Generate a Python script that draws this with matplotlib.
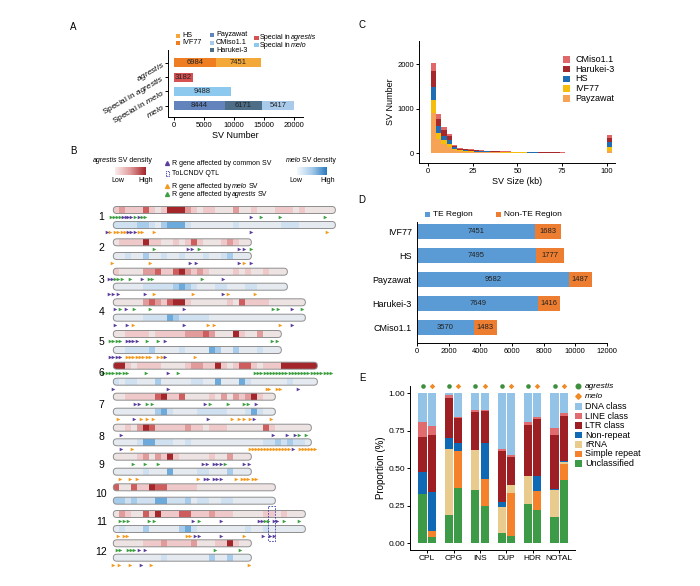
import numpy as np
import matplotlib
matplotlib.use("Agg")
import matplotlib.pyplot as plt
from matplotlib.patches import FancyBboxPatch, Rectangle
from matplotlib.colors import LinearSegmentedColormap

plt.rcParams['font.family'] = ['Liberation Sans', 'DejaVu Sans']
plt.rcParams['mathtext.fontset'] = 'custom'
plt.rcParams['mathtext.rm'] = 'Liberation Sans'
plt.rcParams['mathtext.it'] = 'Liberation Sans:italic'
plt.rcParams['axes.linewidth'] = 0.7
plt.rcParams['xtick.major.width'] = 0.7
plt.rcParams['ytick.major.width'] = 0.7

# ---------------- data ----------------
# A: SV numbers
a_labels = ['$\\mathit{agrestis}$', 'Special in $\\mathit{agrestis}$',
            'Special in $\\mathit{melo}$', '$\\mathit{melo}$']
a_ivf77 = 6984
a_hs = 7451
a_special_agr = 3182
a_special_melo = 9488
a_payzawat = 8444
a_harukei = 6171
a_cmiso = 5417

# C: SV size histogram (3 kb bins, last bin = >=100 kb)
sv_size = [3, 6, 9, 12, 15, 18, 21, 24, 27, 30, 33, 36, 39, 42, 45, 48,
           51, 54, 57, 60, 63, 66, 69, 72, 75, 78, 81, 84, 87, 90, 93, 96, 101.3]
c_payzawat = [900, 330, 220, 150, 70, 45, 38, 34, 28, 24, 22, 20, 19, 17, 16, 15,
              14, 13, 11, 10, 10, 9, 9, 8, 8, 7, 6, 6, 5, 5, 4, 4, 60]
c_ivf77 = [300, 136, 80, 70, 30, 20, 16, 14, 12, 10, 10, 9, 8, 7, 7, 6,
           6, 6, 5, 5, 4, 4, 4, 4, 3, 3, 3, 2, 2, 2, 2, 2, 90]
c_hs = [300, 150, 100, 80, 40, 20, 17, 15, 13, 11, 10, 9, 8, 7, 7, 7,
        6, 6, 5, 5, 4, 4, 4, 4, 3, 3, 3, 3, 3, 2, 2, 2, 100]
c_harukei = [340, 150, 120, 80, 30, 22, 18, 17, 14, 12, 11, 10, 9, 9, 7, 7,
             7, 6, 5, 5, 5, 5, 4, 4, 4, 3, 3, 2, 2, 2, 2, 1, 90]
c_cmiso = [180, 114, 80, 50, 20, 13, 11, 10, 8, 8, 7, 7, 6, 5, 5, 5,
           5, 4, 4, 3, 3, 3, 3, 2, 2, 2, 2, 2, 2, 1, 1, 1, 75]

# D: TE / non-TE
d_names = ['IVF77', 'HS', 'Payzawat', 'Harukei-3', 'CMiso1.1']
d_te = [7451, 7495, 9582, 7649, 3570]
d_nonte = [1683, 1777, 1487, 1416, 1483]

# E: repeat class proportions (rows: class, cols: SV type)
e_types = ['CPL', 'CPG', 'INS', 'DUP', 'HDR', 'NOTAL']
e_classes = ['Unclassified', 'Simple repeat', 'rRNA', 'Non-repeat',
             'LTR class', 'LINE class', 'DNA class']
e_agrestis = [
    [0.330, 0.185, 0.355, 0.070, 0.260, 0.175],
    [0.000, 0.000, 0.000, 0.000, 0.000, 0.000],
    [0.000, 0.440, 0.265, 0.170, 0.185, 0.180],
    [0.145, 0.075, 0.000, 0.035, 0.000, 0.005],
    [0.235, 0.270, 0.255, 0.340, 0.340, 0.360],
    [0.095, 0.015, 0.010, 0.010, 0.025, 0.045],
    [0.195, 0.015, 0.115, 0.375, 0.190, 0.235],
]
e_melo = [
    [0.040, 0.370, 0.250, 0.050, 0.220, 0.420],
    [0.040, 0.245, 0.180, 0.285, 0.125, 0.105],
    [0.000, 0.000, 0.000, 0.050, 0.000, 0.015],
    [0.260, 0.055, 0.235, 0.000, 0.105, 0.005],
    [0.380, 0.165, 0.215, 0.190, 0.380, 0.305],
    [0.060, 0.005, 0.010, 0.010, 0.010, 0.015],
    [0.220, 0.160, 0.110, 0.415, 0.160, 0.135],
]

# B: SV density per ~1 Mb bin (0 low .. 4 high)
agr_density = [
    "1211131014442101100020010001110100000",
    "01111411001013100012100",
    "10000223113421210000101001000",
    "00000232134410000001031111000000",
    "0011110111112223200041002000",
    "4410111100001221141013310111444444",
    "001111134113000010202124100",
    "001024311111211011100000031000000",
    "00001202141000001002000",
    "300311433111110000000000000",
    "02100314111331112111000001101000",
    "00000111211112000114100",
]
melo_density = [
    "1111221023331000000010000000111000000",
    "00100200100100010012000",
    "00000111112321000110001100000",
    "00000111132111110000000000000000",
    "0011112000010000320020001000",
    "1011000200000110030003100000010000",
    "000000023100001111100013100",
    "000013311100100000000000011212110",
    "00000100030000110002000",
    "221211133111201100110000000",
    "01000200000231000000001001000000",
    "00000000100000002002000",
]
# R genes (position in Mb-bins)
agr_common = [[1.6, 2.1, 2.5, 3.0, 4.2, 23.0], [12.5, 13.1, 20.9, 21.8], [-0.8, -0.3, 4.8, 18.3],
              [0.2, 2.1, 11.8, 29.7], [2.2, 2.8, 3.3, 3.9, 8.6], [9.1], [3.6, 4.2, 15.3, 23.7],
              [1.3, 26.6, 29.0, 30.2], [15.0, 15.6, 16.7, 17.2, 17.9, 21.8, 22.6], [],
              [13.2, 17.9, 24.2, 24.7, 26.7, 27.2], [4.3, 5.3]]
agr_only = [[-0.4, 0.1, 0.6, 1.1, 3.6, 4.7, 5.2, 24.6, 27.8, 35.2], [6.8, 14.3, 23.0],
            [0.3, 0.8, 1.4, 2.8, 5.9, 6.5, 14.7], [1.1, 3.5, 6.1, 26.6, 27.4, 31.5],
            [-0.6, 0.0, 0.6, 1.1, 5.6, 7.5, 26.4, 27.2],
            [-1.7, -1.1, -0.6, 0.0, 0.6, 1.1, 1.7, 2.3, 5.4, 10.8, 23.6, 24.1, 24.6, 25.2,
             25.7, 26.2, 26.7, 27.3, 27.8, 28.3, 28.8, 29.4, 29.9, 30.4, 31.0, 31.5, 32.0,
             32.5, 33.1, 33.6, 34.1, 34.6, 35.2, 35.7, 36.2],
            [5.6, 6.4, 16.1, 19.1, 21.8, 22.5], [30.9, 32.1], [3.3, 5.2, 7.5, 18.6], [],
            [1.1, 1.7, 2.5, 6.0, 6.8, 14.3, 25.3, 25.8, 28.5, 31.0], [0.6, 1.1, 2.5, 2.9, 3.5, 16.9, 21.1]]
melo_common = [[-1.1, 2.5, 3.0, 3.6, 22.9], [12.7, 13.8, 20.9, 22.9], [-0.8, 0.0, 0.8, 5.3, 18.2],
               [0.3, 2.2, 11.8, 29.8], [-0.6, 0.0, 0.6, 1.1, 8.6], [0.0, 9.1, 30.8],
               [3.5, 15.8, 23.5], [1.3, 30.0], [15.2, 15.7, 16.7, 17.2, 17.9], [],
               [13.6, 14.2, 17.9, 24.9, 26.1, 26.7], [4.6]]
melo_only = [[-0.6, 0.3, 0.8, 1.4, 1.9, 4.2, 4.7, 6.8, 35.6], [-0.2, 6.1, 21.8],
             [6.8, 13.2, 19.1, 23.6], [3.2, 15.7, 16.7, 27.8],
             [2.2, 2.8, 3.3, 3.9, 4.4, 5.0, 5.6, 6.1, 7.5, 8.1, 13.6], [25.6, 26.0, 27.2, 27.8],
             [0.7, 4.6, 5.6, 6.6, 19.7, 20.9, 21.7, 22.8, 26.2],
             [3.1, 22.8, 23.3, 23.8, 24.3, 24.8, 25.3, 25.8, 26.3, 26.8, 27.3, 27.8, 28.3, 28.8,
              29.3, 31.1, 31.6, 32.1, 32.6, 33.1, 33.6],
             [1.1, 2.8, 3.9, 14.1, 20.4, 21.4, 21.9, 22.5, 23.3, 23.7], [],
             [0.7, 1.8, 2.2, 12.2, 12.8, 21.8], [0.0, 1.0, 2.7, 6.3, 22.6]]
qtl_chr11 = (25.8, 26.9)

# ---------------- helpers ----------------
W, H = 700, 586
fig = plt.figure(figsize=(7, 5.86), dpi=100)


def box(x0, y0, x1, y1):
    return [x0 / W, 1 - y1 / H, (x1 - x0) / W, (y1 - y0) / H]


def fsq(xc, yc, w, h, color, **kw):
    fig.patches.append(Rectangle(((xc - w / 2) / W, 1 - (yc + h / 2) / H), w / W, h / H,
                                 transform=fig.transFigure, facecolor=color,
                                 edgecolor=kw.get('ec', 'none'), lw=kw.get('lw', 0),
                                 ls=kw.get('ls', '-')))


def fmark(xc, yc, marker, color, ms):
    fig.lines.append(plt.Line2D([xc / W], [1 - yc / H], marker=marker, color=color, ms=ms,
                                ls='none', transform=fig.transFigure))


def clean(ax):
    ax.spines['top'].set_visible(False)
    ax.spines['right'].set_visible(False)


# overlay axes in pixel coordinates for free text
axO = fig.add_axes([0, 0, 1, 1], zorder=10)
axO.set_xlim(0, W)
axO.set_ylim(H, 0)
axO.axis('off')


def ftext(x, y, s, **kw):
    kw.setdefault('va', 'center')
    axO.text(x, y, s, **kw)


def rich(x, y, parts, fs):
    # parts: (word, style) pieces drawn one after another, a space apart
    t = axO.text(x, y, parts[0][0], style=parts[0][1], fontsize=fs, va='center')
    for s, st in parts[1:]:
        t = axO.annotate(s, xy=(1, 0), xycoords=t, xytext=(fs * 0.12, 0),
                         textcoords='offset points', style=st, fontsize=fs,
                         va='bottom', ha='left')


# panel letters
for letter, (x, y) in zip('ABCDE', [(73, 27), (73, 151), (362, 25), (362, 200), (362, 378)]):
    ftext(x, y, letter, fontsize=7, ha='center')

# ---------------- A ----------------
col_hs, col_ivf = '#F5A83A', '#EF7D22'
col_pay, col_har, col_cm = '#6283BC', '#4D6E86', '#A9CAEA'
col_sa, col_sm = '#D65151', '#8DC8EE'

axA = fig.add_axes(box(168, 50, 303, 116.7))
bh = 0.63
axA.barh(0, a_ivf77, height=bh, color=col_ivf)
axA.barh(0, a_hs, left=a_ivf77, height=bh, color=col_hs)
axA.barh(1, a_special_agr, height=bh, color=col_sa)
axA.barh(2, a_special_melo, height=bh, color=col_sm)
axA.barh(3, a_payzawat, height=bh, color=col_pay)
axA.barh(3, a_harukei, left=a_payzawat, height=bh, color=col_har)
axA.barh(3, a_cmiso, left=a_payzawat + a_harukei, height=bh, color=col_cm)
for x, y, v in [(a_ivf77 / 2, 0, a_ivf77), (a_ivf77 + a_hs / 2, 0, a_hs),
                (a_special_agr / 2, 1, a_special_agr), (a_special_melo / 2, 2, a_special_melo),
                (a_payzawat / 2, 3, a_payzawat), (a_payzawat + a_harukei / 2, 3, a_harukei),
                (a_payzawat + a_harukei + a_cmiso / 2, 3, a_cmiso)]:
    axA.text(x, y, str(v), ha='center', va='center', fontsize=5.5, color='#222222')
axA.set_xlim(-1000, 21500)
axA.set_ylim(3.77, -0.89)
axA.set_xticks([0, 5000, 10000, 15000, 20000])
axA.set_yticks(range(4))
axA.set_yticklabels(a_labels, rotation=30, ha='right', rotation_mode='anchor', fontsize=6)
axA.tick_params(axis='x', labelsize=5.5, length=2, pad=1.5)
axA.tick_params(axis='y', length=2, pad=1.5)
axA.set_xlabel('SV Number', fontsize=6.5, labelpad=1.5)
clean(axA)

for (x, y, c, t) in [(178, 35.7, col_hs, 'HS'), (178, 43, col_ivf, 'IVF77'),
                     (212, 35, col_pay, 'Payzawat'), (212, 42.7, col_cm, 'CMiso1.1'),
                     (212, 50.3, col_har, 'Harukei-3')]:
    fsq(x, y, 5, 4, c)
    ftext(x + 4, y, t, fontsize=5.2)
fsq(256, 37.8, 5, 4, col_sa)
rich(260, 37.8, [('Special', 'normal'), ('in', 'normal'), ('agrestis', 'italic')], 5.2)
fsq(256, 45.2, 5, 4, col_sm)
rich(260, 45.2, [('Special', 'normal'), ('in', 'normal'), ('melo', 'italic')], 5.2)

# ---------------- B ----------------
agr_cols = ['#EEE3E3', '#EFC9C9', '#E29B9B', '#CE5E5E', '#A3262B']
melo_cols = ['#E4EAF0', '#CFE1F1', '#A7CBEA', '#6BAADB', '#3481C2']
agr_y = [210, 242.3, 271.7, 302.3, 334, 365.7, 396.7, 427.7, 456.7, 487.3, 514, 543.3]
melo_y = [225, 256, 286.7, 317.7, 350, 381.7, 411.7, 442.3, 471.7, 500.7, 529, 557.7]
num_y = [217, 248, 280, 312, 342, 373, 405, 437, 465, 494, 522, 552]
c_common, c_agr, c_melo = '#5A3E9B', '#3DA040', '#F39A1E'

axB = fig.add_axes(box(95, 200, 345, 572))
axB.set_xlim(-3.05, 38.6)
axB.set_ylim(572, 200)
axB.axis('off')


def chrom(dens, yc, cols):
    n = len(dens)
    fb = FancyBboxPatch((0, yc - 3.5), n, 7, boxstyle='round,pad=0,rounding_size=0.58',
                        mutation_aspect=6, facecolor='none', edgecolor='#8E8E8E', lw=0.7,
                        zorder=3)
    axB.add_patch(fb)
    bars = axB.barh([yc] * n, [1] * n, left=list(range(n)), height=7,
                    color=[cols[int(c)] for c in dens], linewidth=0, zorder=2)
    for p in bars:
        p.set_clip_path(fb)


for i in range(12):
    chrom(agr_density[i], agr_y[i], agr_cols)
    chrom(melo_density[i], melo_y[i], melo_cols)
    ty = agr_y[i] + 7
    axB.plot(agr_only[i], [ty] * len(agr_only[i]), '>', color=c_agr, ms=2.6, mew=0)
    axB.plot(agr_common[i], [ty] * len(agr_common[i]), '>', color=c_common, ms=2.6, mew=0)
    ty = melo_y[i] + 7
    axB.plot(melo_only[i], [ty] * len(melo_only[i]), '>', color=c_melo, ms=2.6, mew=0)
    axB.plot(melo_common[i], [ty] * len(melo_common[i]), '>', color=c_common, ms=2.6, mew=0)
    axB.text(-2.0, num_y[i], str(i + 1), fontsize=7.5, ha='center', va='center')
axB.add_patch(Rectangle((qtl_chr11[0], 506.5), qtl_chr11[1] - qtl_chr11[0], 35, fill=False,
                        edgecolor='#3A3AB0', lw=0.6, ls=(0, (2, 1.5)), zorder=5))

# B legend
rich(93, 160, [('agrestis', 'italic'), ('SV density', 'normal')], 5)
rich(286, 160, [('melo', 'italic'), ('SV density', 'normal')], 5)
for (x0, x1, cm) in [(115, 146, LinearSegmentedColormap.from_list('r', ['#FBEDED', '#E29B9B', '#A3262B'])),
                     (297, 327, LinearSegmentedColormap.from_list('b', ['#F4F9FD', '#A7CBEA', '#2B7BC0']))]:
    gax = fig.add_axes(box(x0, 166.5, x1, 175))
    gax.imshow(np.linspace(0, 1, 100)[None, :], aspect='auto', cmap=cm)
    gax.axis('off')
ftext(118, 180.5, 'Low', fontsize=5, ha='center')
ftext(146, 180.5, 'High', fontsize=5, ha='center')
ftext(296, 180.5, 'Low', fontsize=5, ha='center')
ftext(328, 180.5, 'High', fontsize=5, ha='center')
fmark(167.3, 163.3, '^', c_common, 2.8)
fsq(167.3, 173.3, 3.5, 5, 'none', ec='#3A3AB0', lw=0.6, ls=(0, (1.5, 1)))
fmark(167.3, 186, '^', c_melo, 2.8)
fmark(167.3, 194.3, '^', c_agr, 2.8)
ftext(172.5, 163.3, 'R gene affected by common SV', fontsize=5)
ftext(172.5, 173.3, 'ToLCNDV QTL', fontsize=5)
rich(172.5, 186, [('R gene affected by', 'normal'), ('melo', 'italic'), ('SV', 'normal')], 5)
rich(172.5, 194.3, [('R gene affected by', 'normal'), ('agrestis', 'italic'), ('SV', 'normal')], 5)

# ---------------- C ----------------
c_cols = {'CMiso1.1': '#E06868', 'Harukei-3': '#A4282C', 'HS': '#1F6DB3',
          'IVF77': '#F5BE0A', 'Payzawat': '#F6A356'}
axC = fig.add_axes(box(419, 40.7, 615, 162.7))
bottom = np.zeros(len(sv_size))
for name, vals in [('Payzawat', c_payzawat), ('IVF77', c_ivf77), ('HS', c_hs),
                   ('Harukei-3', c_harukei), ('CMiso1.1', c_cmiso)]:
    axC.bar(sv_size, vals, width=3, bottom=bottom, color=c_cols[name], linewidth=0)
    bottom += np.array(vals)
axC.set_xlim(-5, 104.5)
axC.set_ylim(-211, 2530)
axC.set_xticks([0, 25, 50, 75, 100])
axC.set_yticks([0, 1000, 2000])
axC.tick_params(labelsize=5.5, length=2, pad=1.5)
axC.set_xlabel('SV Size (kb)', fontsize=6.5, labelpad=1.5)
axC.set_ylabel('SV Number', fontsize=6.5, labelpad=2)
clean(axC)
for i, name in enumerate(['CMiso1.1', 'Harukei-3', 'HS', 'IVF77', 'Payzawat']):
    y = 59.3 + 9.8 * i
    fsq(566, y, 7, 6.5, c_cols[name])
    ftext(575, y, name, fontsize=6.5)

# ---------------- D ----------------
col_te, col_nte = '#5B9BD5', '#ED7D31'
axD = fig.add_axes(box(417.3, 221.7, 606.7, 343.3))
yd = np.arange(len(d_names))
axD.barh(yd, d_te, height=0.625, color=col_te)
axD.barh(yd, d_nonte, left=d_te, height=0.625, color=col_nte)
for i in range(len(d_names)):
    axD.text(d_te[i] / 2, i, str(d_te[i]), ha='center', va='center', fontsize=5.5, color='#222222')
    axD.text(d_te[i] + d_nonte[i] / 2, i, str(d_nonte[i]), ha='center', va='center',
             fontsize=5.5, color='#222222')
axD.set_xlim(0, 12000)
axD.set_ylim(4.65, -0.42)
axD.set_xticks(range(0, 12001, 2000))
axD.set_yticks(yd)
axD.set_yticklabels(d_names, fontsize=6.5)
axD.tick_params(axis='x', labelsize=5.5, length=2, pad=1.5)
axD.tick_params(axis='y', length=0, pad=4)
clean(axD)
fsq(427, 214.3, 5, 5, col_te)
ftext(433, 214.3, 'TE Region', fontsize=6)
fsq(498, 214.3, 5, 5, col_nte)
ftext(504, 214.3, 'Non-TE Region', fontsize=6)

# ---------------- E ----------------
e_cols = {'DNA class': '#93C4E8', 'LINE class': '#E06C6F', 'LTR class': '#9D1F24',
          'Non-repeat': '#1069B4', 'rRNA': '#E9CB8E', 'Simple repeat': '#F5822B',
          'Unclassified': '#3D9B47'}
axE = fig.add_axes(box(410, 386, 575, 550))
xe = np.arange(len(e_types))
off, bw = 0.176, 0.305
b_agr = np.zeros(len(e_types))
b_melo = np.zeros(len(e_types))
for k, cls in enumerate(e_classes):
    axE.bar(xe - off, e_agrestis[k], width=bw, bottom=b_agr, color=e_cols[cls], linewidth=0)
    axE.bar(xe + off, e_melo[k], width=bw, bottom=b_melo, color=e_cols[cls], linewidth=0)
    b_agr += np.array(e_agrestis[k])
    b_melo += np.array(e_melo[k])
axE.plot(xe - off, [1.048] * len(xe), 'o', color='#3D8E3D', ms=3.3, clip_on=False, mew=0)
axE.plot(xe + off, [1.048] * len(xe), 'D', color='#F08A24', ms=2.8, clip_on=False, mew=0)
axE.set_xlim(-0.65, 5.6)
axE.set_ylim(-0.045, 1.048)
axE.set_xticks(xe)
axE.set_xticklabels(e_types)
axE.set_yticks([0, 0.25, 0.5, 0.75, 1.0])
axE.set_yticklabels(['0.00', '0.25', '0.50', '0.75', '1.00'])
axE.tick_params(labelsize=6, length=2, pad=1.5)
axE.set_ylabel('Proportion (%)', fontsize=7, labelpad=2)
clean(axE)
fmark(578, 386, 'o', '#3D8E3D', 3.3)
ftext(585, 386, 'agrestis', fontsize=6, style='italic')
fmark(578, 396, 'D', '#F08A24', 2.8)
ftext(585, 396, 'melo', fontsize=6, style='italic')
for i, cls in enumerate(['DNA class', 'LINE class', 'LTR class', 'Non-repeat', 'rRNA',
                         'Simple repeat', 'Unclassified']):
    y = 406.7 + 9.45 * i
    fsq(578, y, 7, 6.5, e_cols[cls])
    ftext(585, y, cls, fontsize=6.5)

fig.savefig('out.png', dpi=100)
